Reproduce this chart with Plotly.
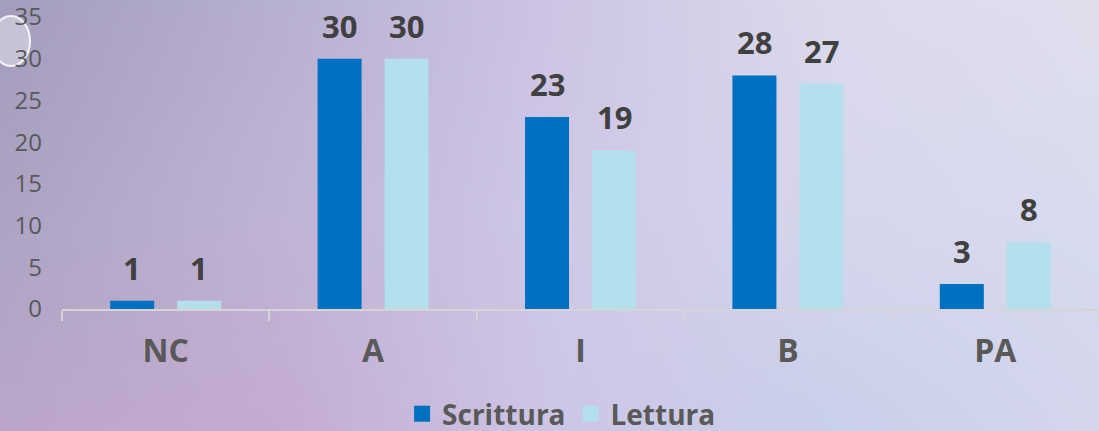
import base64, struct, zlib
import numpy as np
import plotly.graph_objects as go

# ---------------- data ----------------
categories = ["NC", "A", "I", "B", "PA"]
scrittura = [1, 30, 23, 28, 3]
lettura = [1, 30, 19, 27, 8]
series_names = ["Scrittura", "Lettura"]
y_ticks = [0, 5, 10, 15, 20, 25, 30, 35]

# ---------------- style ----------------
C_SCR = "#0070C0"
C_LET = "#B4DFEC"
FONT = "Open Sans"
W, H = 1099, 431
ML, MR, MT, MB = 62, 0, 17, 122
PW, PH = W - ML - MR, H - MT - MB


# ---------------- background gradient (decorative) ----------------
def hex2rgb(h):
    h = h.lstrip("#")
    return [int(h[i:i + 2], 16) for i in (0, 2, 4)]


ctrl = np.array([
    [hex2rgb(c) for c in ["#a59dbd", "#b8b0d0", "#cdc5e3", "#dcd9ec", "#e0dfee"]],
    [hex2rgb(c) for c in ["#ada4c4", "#c0b4d6", "#cfc8e6", "#d6d6ec", "#d8dcee"]],
    [hex2rgb(c) for c in ["#bba6c9", "#c4acd0", "#cec6e6", "#c9d0ea", "#d4d6ec"]],
], dtype=float)
iw, ih = 220, 86
gx = np.linspace(0, ctrl.shape[1] - 1, iw)
gy = np.linspace(0, ctrl.shape[0] - 1, ih)
x0 = np.clip(np.floor(gx).astype(int), 0, ctrl.shape[1] - 2)
y0 = np.clip(np.floor(gy).astype(int), 0, ctrl.shape[0] - 2)
fx = (gx - x0)[None, :, None]
fy = (gy - y0)[:, None, None]
c00 = ctrl[y0][:, x0]
c01 = ctrl[y0][:, x0 + 1]
c10 = ctrl[y0 + 1][:, x0]
c11 = ctrl[y0 + 1][:, x0 + 1]
img = (c00 * (1 - fx) * (1 - fy) + c01 * fx * (1 - fy) + c10 * (1 - fx) * fy + c11 * fx * fy)
img = np.clip(img, 0, 255).astype(np.uint8)


def png_bytes(arr):
    h, w, _ = arr.shape
    raw = b"".join(b"\x00" + arr[r].tobytes() for r in range(h))

    def chunk(t, d):
        c = struct.pack(">I", len(d)) + t + d
        return c + struct.pack(">I", zlib.crc32(t + d) & 0xffffffff)

    return (b"\x89PNG\r\n\x1a\n" + chunk(b"IHDR", struct.pack(">IIBBBBB", w, h, 8, 2, 0, 0, 0))
            + chunk(b"IDAT", zlib.compress(raw, 9)) + chunk(b"IEND", b""))


bg_uri = "data:image/png;base64," + base64.b64encode(png_bytes(img)).decode()

# ---------------- figure ----------------
fig = go.Figure()
fig.add_trace(go.Bar(x=categories, y=scrittura, name=series_names[0],
                     marker=dict(color=C_SCR, line=dict(width=0)), showlegend=False))
fig.add_trace(go.Bar(x=categories, y=lettura, name=series_names[1],
                     marker=dict(color=C_LET, line=dict(width=0)), showlegend=False))
# legend entries (square markers)
for nm, col in zip(series_names, [C_SCR, C_LET]):
    fig.add_trace(go.Scatter(x=[None], y=[None], mode="markers", name=nm,
                             marker=dict(symbol="square", size=17, color=col)))

# value labels
bar_offset = 33.5
for vals, sh in ((scrittura, -bar_offset), (lettura, bar_offset)):
    for cat, v in zip(categories, vals):
        fig.add_annotation(x=cat, y=v, xref="x", yref="y", text=f"<b>{v}</b>",
                           showarrow=False, xshift=sh, yanchor="bottom", yshift=10,
                           font=dict(family=FONT, size=31, color="#404040"))

fig.add_layout_image(dict(source=bg_uri, xref="paper", yref="paper",
                          x=-ML / PW, y=1 + MT / PH, sizex=W / PW, sizey=H / PH,
                          xanchor="left", yanchor="top", sizing="stretch", layer="below"))

# decorative bubble top-left
fig.add_shape(type="circle", xref="paper", yref="paper",
              x0=(-8 - ML) / PW, x1=(30 - ML) / PW,
              y0=1 - (66 - MT) / PH, y1=1 - (16 - MT) / PH,
              fillcolor="rgba(225,225,235,0.55)", line=dict(color="rgba(255,255,255,0.85)", width=2),
              layer="below")

fig.update_layout(
    width=W, height=H,
    margin=dict(l=ML, r=MR, t=MT, b=MB),
    paper_bgcolor="#c8c0dc", plot_bgcolor="rgba(0,0,0,0)",
    barmode="group", bargap=0.354, bargroupgap=0.343,
    font=dict(family=FONT, color="#595959"),
    legend=dict(orientation="h", xref="container", yref="container",
                x=0.511, xanchor="center", y=(H - 414) / H, yanchor="middle",
                font=dict(family=FONT, size=28, color="#595959", weight="bold"),
                bgcolor="rgba(0,0,0,0)", itemclick=False),
    xaxis=dict(showline=True, linecolor="#d6d4d8", linewidth=2,
               ticks="outside", tickson="boundaries", ticklen=10, tickcolor="#d6d4d8", tickwidth=2,
               showgrid=False, ticklabelstandoff=13,
               tickfont=dict(family=FONT, size=32, color="#595959", weight="bold")),
    yaxis=dict(range=[0, 35], tickvals=y_ticks, showgrid=False, zeroline=False,
               showline=False, ticks="", ticklabelstandoff=19, ticklabeloverflow="allow",
               tickfont=dict(family=FONT, size=24, color="#595959")),
)

fig.write_html("out.html", config={"displayModeBar": False},
               post_script="document.body.style.margin='0';document.body.style.overflow='hidden';")
